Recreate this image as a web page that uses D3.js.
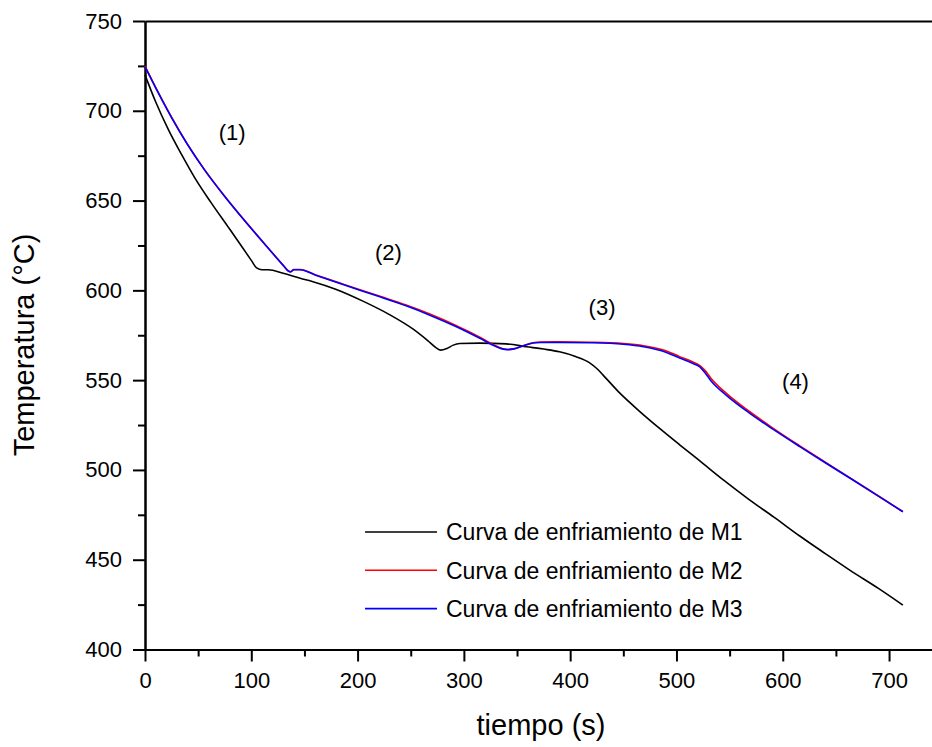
<!DOCTYPE html>
<meta charset="utf-8">
<script src="https://cdnjs.cloudflare.com/ajax/libs/d3/7.8.5/d3.min.js"></script>
<style>
  body { margin: 0; background: #fff; }
  text { font-family: Arial, "Liberation Sans", sans-serif; fill: #000; }
</style>
<div id="chart"></div>
<script>
  // tiempo (s) / temperatura (°C)
  const tiempoM1 = [0, 10, 22, 35, 47, 62, 78, 92, 100, 105, 110, 116, 130, 146, 158, 180, 205, 230, 252, 266, 274, 278, 284, 290, 296, 315, 340, 359, 375, 390, 405, 418, 425, 431, 447, 465, 485, 503, 522, 545, 569, 592, 616, 640, 663, 690, 713]
  const tempM1 = [720, 705, 689.5, 675, 662.5, 649, 635.5, 623.6, 616.7, 612.5, 611.5, 611.5, 609.5, 606.7, 604.8, 600.5, 594, 586.5, 578.5, 572, 568, 566.7, 567.6, 569.5, 570.4, 570.6, 570.2, 568.6, 567.3, 565.8, 563.2, 559.8, 556.5, 552.8, 542.6, 532.8, 522.7, 514, 505, 494, 483.2, 473.6, 463.2, 453.4, 444.2, 434, 424.7]

  const tiempoM2 = [0, 12, 25, 40, 56, 75, 94, 115, 130, 135, 137, 140, 146, 160, 185, 221, 245, 268, 292, 315, 328, 336, 341, 347, 356, 365, 372, 390, 420, 450, 469, 490, 503, 515, 522, 527, 532, 547, 569, 590, 616, 640, 663, 690, 713]
  const tempM2 = [725, 710.8, 696.4, 681.3, 667.2, 652.4, 638.7, 624.2, 614, 610.8, 610.4, 611.6, 611.6, 608.7, 603.7, 596.7, 592, 586.8, 580.6, 573.9, 569.7, 567.6, 567.1, 567.4, 569.2, 570.8, 571.2, 571.3, 571.1, 570.4, 569.2, 566.4, 563.1, 560.2, 558.1, 555.3, 551.4, 542.6, 532.4, 523.6, 513.4, 504.3, 495.7, 485.5, 476.8]

  const tiempoM3 = [0, 12, 25, 40, 56, 75, 94, 115, 130, 135, 137, 140, 146, 160, 185, 221, 245, 268, 292, 315, 328, 336, 341, 347, 356, 365, 372, 390, 420, 450, 469, 490, 503, 515, 522, 527, 532, 547, 569, 590, 616, 640, 663, 690, 713]
  const tempM3 = [724.5, 710.5, 696.2, 681.2, 667.1, 652.3, 638.6, 624.1, 613.9, 610.6, 610.3, 611.5, 611.5, 608.6, 603.5, 596.4, 591.5, 586.2, 580, 573.3, 569.3, 567.4, 567, 567.4, 569.2, 570.7, 571, 571, 570.8, 570, 568.6, 565.6, 562.3, 559.4, 557.4, 554, 550, 541.5, 531.5, 523, 513, 504, 495.5, 485.4, 476.7]

  const series = ["Curva de enfriamiento de M1", "Curva de enfriamiento de M2", "Curva de enfriamiento de M3"]
  const colors = ["#000000", "#ff0000", "#0000ff"]

  const regionLabels = ["(1)", "(2)", "(3)", "(4)"]
  const regionT = [82, 229, 430, 612]      // tiempo at label centre
  const regionTemp = [684, 617, 586, 545]  // temperatura at label baseline

  const xTicks = [0, 100, 200, 300, 400, 500, 600, 700]
  const yTicks = [400, 450, 500, 550, 600, 650, 700, 750]

  const width = 932, height = 747
  const svg = d3.select("#chart").append("svg")
    .attr("width", width).attr("height", height)

  const x = d3.scaleLinear().domain([0, 750]).range([145, 942.2])
  const y = d3.scaleLinear().domain([400, 750]).range([649.5, 21])

  const xMinor = d3.range(50, 750, 100)
  const yMinor = d3.range(425, 750, 50)

  // minor ticks
  svg.append("g").attr("transform", `translate(0,${y(400)})`)
    .call(d3.axisBottom(x).tickValues(xMinor).tickSize(7).tickFormat("").tickSizeOuter(0))
  svg.append("g").attr("transform", `translate(${x(0)},0)`)
    .call(d3.axisLeft(y).tickValues(yMinor).tickSize(7).tickFormat("").tickSizeOuter(0))

  // major axes
  svg.append("g").attr("transform", `translate(0,${y(400)})`)
    .call(d3.axisBottom(x).tickValues(xTicks).tickSize(12).tickPadding(11).tickSizeOuter(0))
  svg.append("g").attr("transform", `translate(${x(0)},0)`)
    .call(d3.axisLeft(y).tickValues(yTicks).tickSize(12).tickPadding(11).tickSizeOuter(0))

  // frame on top and right
  svg.append("g").attr("transform", `translate(0,${y(750)})`)
    .call(d3.axisTop(x).tickValues([]).tickSizeOuter(0))
  svg.append("g").attr("transform", `translate(${x(750)},0)`)
    .call(d3.axisRight(y).tickValues([]).tickSizeOuter(0))

  svg.selectAll(".domain, .tick line").attr("stroke", "#000").attr("stroke-width", 2)
  svg.selectAll(".tick text").style("font-size", "22px").attr("font-family", "Arial, 'Liberation Sans', sans-serif")

  // curves
  const data = [
    d3.zip(tiempoM1, tempM1),
    d3.zip(tiempoM2, tempM2),
    d3.zip(tiempoM3, tempM3)
  ]
  const line = d3.line()
    .x(d => x(d[0]))
    .y(d => y(d[1]))
    .curve(d3.curveMonotoneX)

  svg.selectAll(".curve")
    .data(data)
    .join("path")
    .attr("class", "curve")
    .attr("d", line)
    .style("fill", "none")
    .style("stroke", (d, i) => colors[i])
    .style("stroke-width", 1.6)

  // region labels
  svg.selectAll(".region")
    .data(regionLabels)
    .join("text")
    .attr("class", "region")
    .attr("x", (d, i) => x(regionT[i]))
    .attr("y", (d, i) => y(regionTemp[i]))
    .attr("text-anchor", "middle")
    .style("font-size", "22px")
    .text(d => d)

  // legend
  const legend = svg.append("g").attr("transform", "translate(365,532)")
  series.forEach((s, i) => {
    const row = legend.append("g").attr("transform", `translate(0,${i * 38.3})`)
    row.append("line").attr("x1", 0).attr("x2", 72).attr("y1", 0).attr("y2", 0)
      .style("stroke", colors[i]).style("stroke-width", 1.6)
    row.append("text").attr("x", 81).attr("y", 0).attr("dy", "0.36em")
      .style("font-size", "23px").text(s)
  })

  // axis titles
  svg.append("text")
    .attr("x", 541).attr("y", 735)
    .attr("text-anchor", "middle")
    .style("font-size", "29px")
    .text("tiempo (s)")

  svg.append("text")
    .attr("transform", "translate(34,345) rotate(-90)")
    .attr("text-anchor", "middle")
    .style("font-size", "29px")
    .text("Temperatura (°C)")
</script>
